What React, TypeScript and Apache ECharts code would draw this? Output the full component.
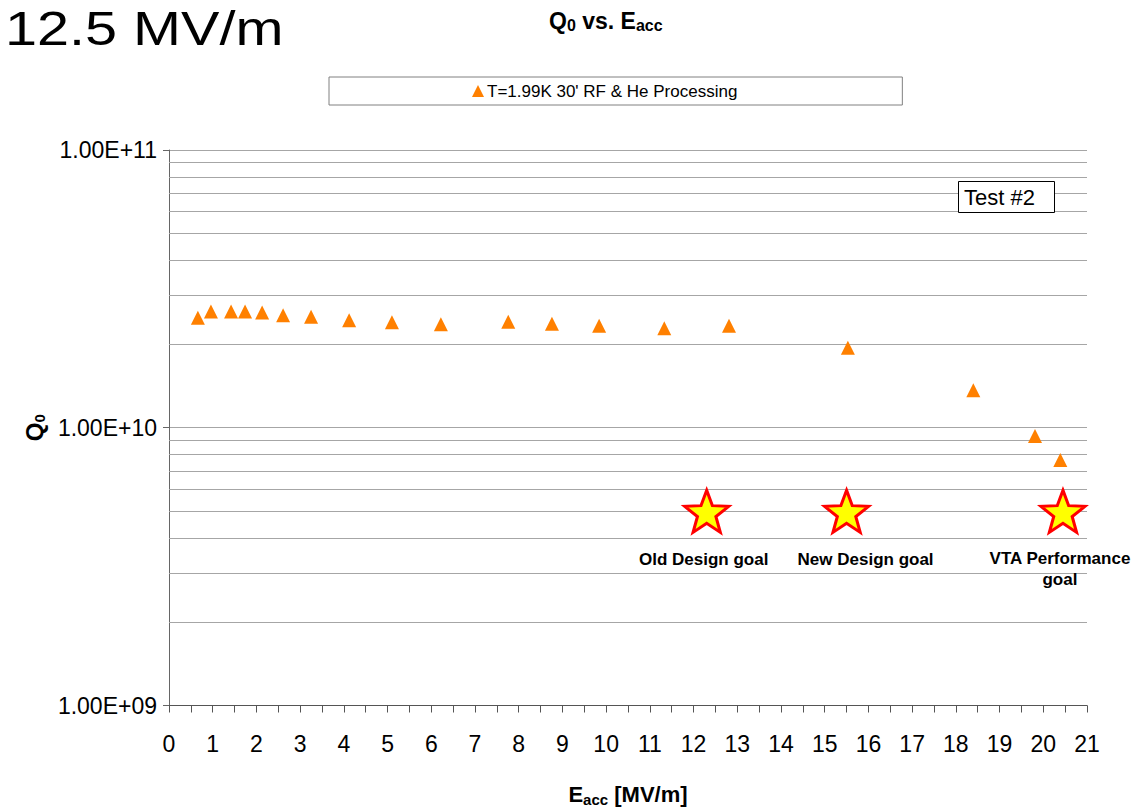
import React, { useEffect, useRef } from "react";
import * as echarts from "echarts";

// ---- data ----
const seriesName = "T=1.99K 30' RF & He Processing";
const eacc = [0.66, 0.96, 1.42, 1.74, 2.13, 2.61, 3.25, 4.12, 5.1, 6.22, 7.76, 8.76, 9.84, 11.33, 12.81, 15.53, 18.4, 19.81, 20.39];
const q0 = [2.49e10, 2.62e10, 2.62e10, 2.62e10, 2.6e10, 2.54e10, 2.51e10, 2.44e10, 2.4e10, 2.36e10, 2.41e10, 2.37e10, 2.33e10, 2.28e10, 2.33e10, 1.94e10, 1.365e10, 9.34e9, 7.66e9];

const goalNames = ["Old Design goal", "New Design goal", "VTA Performance\ngoal"];
const goalEacc = [12.3, 15.5, 20.45];
const goalQ0 = [5e9, 5e9, 5e9];

const minorGridValues = [2e9, 3e9, 4e9, 5e9, 6e9, 7e9, 8e9, 9e9, 2e10, 3e10, 4e10, 5e10, 6e10, 7e10, 8e10, 9e10];

const FONT = "'Liberation Sans', Arial, Helvetica, sans-serif";

function starPath(): string {
  const pts: string[] = [];
  for (let i = 0; i < 10; i++) {
    const r = i % 2 === 0 ? 50 : 21;
    const a = -Math.PI / 2 + (i * Math.PI) / 5;
    pts.push(`${(50 + r * Math.cos(a)).toFixed(2)},${(50 + r * Math.sin(a)).toFixed(2)}`);
  }
  return "path://M" + pts.join(" L") + " Z";
}

export default function App() {
  const ref = useRef<HTMLDivElement>(null);
  useEffect(() => {
    if (!ref.current) return;
    const chart = echarts.init(ref.current, undefined, { renderer: "svg" });
    const labelOffsets = [[-3, 48], [19, 48], [-3, 58]];
    const option: any = {
      animation: false,
      backgroundColor: "#fff",
      textStyle: { fontFamily: FONT },
      title: [
        {
          text: "{a|Q}{s|0}{a| vs. E}{s|acc}",
          left: 549,
          top: 8,
          padding: 0,
          textStyle: {
            fontFamily: FONT,
            rich: {
              a: { fontSize: 23, fontWeight: "bold", color: "#000", fontFamily: FONT, lineHeight: 25 },
              s: { fontSize: 16, fontWeight: "bold", color: "#000", fontFamily: FONT, padding: [9, 0, 0, 0] },
            },
          },
        },
        {
          text: "Test #2",
          left: 958,
          top: 181,
          padding: [4, 20, 4, 6],
          borderColor: "#000",
          borderWidth: 1,
          backgroundColor: "#fff",
          z: 10,
          textStyle: { fontFamily: FONT, fontSize: 22, fontWeight: "normal", color: "#000", lineHeight: 24 },
        },
      ],
      legend: {
        data: [seriesName],
        left: 329,
        top: 77,
        padding: [5, 165, 5, 143],
        borderColor: "#808080",
        borderWidth: 1,
        itemWidth: 12,
        itemHeight: 12,
        itemGap: 4,
        textStyle: { fontFamily: FONT, fontSize: 17, color: "#000", lineHeight: 18, padding: [0, 0, 0, -2] },
      },
      grid: { left: 169, right: 49, top: 150, bottom: 105, containLabel: false },
      xAxis: {
        type: "value",
        min: 0,
        max: 21,
        interval: 1,
        name: "{e|E}{s|acc}{e| [MV/m]}",
        nameLocation: "middle",
        nameGap: 76,
        nameTextStyle: {
          rich: {
            e: { fontSize: 22, fontWeight: "bold", color: "#000", fontFamily: FONT, lineHeight: 26 },
            s: { fontSize: 15, fontWeight: "bold", color: "#000", fontFamily: FONT, padding: [10, 0, 0, 0] },
          },
        },
        axisLine: { show: true, lineStyle: { color: "#555", width: 1 } },
        axisTick: { show: true, length: 7, lineStyle: { color: "#555" } },
        minorTick: { show: true, splitNumber: 2, length: 7, lineStyle: { color: "#555" } },
        splitLine: { show: false },
        axisLabel: { fontSize: 23, color: "#000", margin: 27, fontFamily: FONT },
      },
      yAxis: {
        type: "log",
        logBase: 10,
        min: 1e9,
        max: 1e11,
        name: "{q|Q}{s|0}",
        nameLocation: "middle",
        nameRotate: 90,
        nameGap: 122,
        nameTextStyle: {
          rich: {
            q: { fontSize: 24, fontWeight: "bold", color: "#000", fontFamily: FONT, lineHeight: 26 },
            s: { fontSize: 15, fontWeight: "bold", color: "#000", fontFamily: FONT, padding: [10, 0, 0, 0] },
          },
        },
        axisLine: { show: true, lineStyle: { color: "#666", width: 1 } },
        axisTick: { show: true, length: 6, lineStyle: { color: "#666" } },
        splitLine: { show: true, lineStyle: { color: "#a6a6a6", width: 1 } },
        axisLabel: {
          fontSize: 23,
          color: "#000",
          margin: 12,
          fontFamily: FONT,
          formatter: (v: number) => {
            const e = Math.round(Math.log10(v));
            return `1.00E+${String(e).padStart(2, "0")}`;
          },
        },
      },
      series: [
        {
          name: seriesName,
          type: "scatter",
          symbol: "triangle",
          symbolSize: [14, 14],
          itemStyle: { color: "#ff8000", opacity: 1 },
          data: eacc.map((x, i) => [x, q0[i]]),
          z: 4,
          markLine: {
            silent: true,
            symbol: "none",
            label: { show: false },
            lineStyle: { color: "#a6a6a6", type: "solid", width: 1 },
            data: minorGridValues.map((v) => ({ yAxis: v })),
            z: 1,
          },
        },
        {
          name: "goals",
          type: "scatter",
          symbol: starPath(),
          symbolSize: [44, 42],
          itemStyle: { color: "#ffff00", borderColor: "#ff0000", borderWidth: 3, opacity: 1 },
          z: 5,
          data: goalEacc.map((x, i) => ({
            value: [x, goalQ0[i]],
            label: {
              show: true,
              position: "inside",
              offset: labelOffsets[i],
              formatter: goalNames[i],
              fontFamily: FONT,
              fontSize: 17,
              fontWeight: "bold",
              color: "#000",
              lineHeight: 21,
              align: "center",
            },
          })),
        },
      ],
      graphic: [
        {
          type: "text",
          x: 5,
          y: 4,
          scaleX: 1.2,
          style: {
            text: "12.5 MV/m",
            fontFamily: FONT,
            fontSize: 48,
            lineHeight: 48,
            fill: "#000",
            verticalAlign: "top",
            align: "left",
          },
        },
      ],
    };
    chart.setOption(option);
    return () => chart.dispose();
  }, []);
  return <div ref={ref} style={{ width: 1136, height: 812, position: "absolute", left: 0, top: 0 }} />;
}
